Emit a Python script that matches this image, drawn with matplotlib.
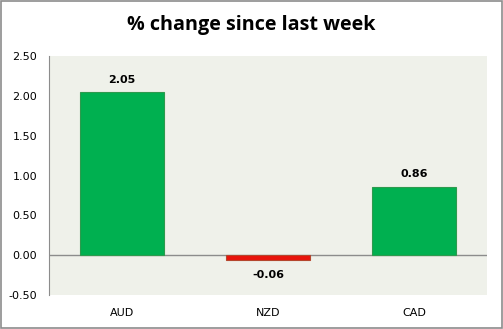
import matplotlib
matplotlib.use("Agg")
from matplotlib import pyplot as plt
from matplotlib.patches import Rectangle
import numpy as np

currencies = ["AUD", "NZD", "CAD"]
weekly_change = [2.05, -0.06, 0.86]
bar_colors = ["#00B050", "#E8140C", "#00B050"]
edge_colors = ["#2E9A4E", "#B5462E", "#2E9A4E"]
yticks = [-0.50, 0.00, 0.50, 1.00, 1.50, 2.00, 2.50]

fig = plt.figure(figsize=(5.03, 3.29), dpi=100)
fig.patch.set_facecolor("white")
ax = fig.add_axes([49 / 503, 1 - 295 / 329, (487 - 49) / 503, (295 - 56) / 329])
ax.set_facecolor("#EFF1EA")

xpos = np.arange(len(currencies))
ax.bar(xpos, weekly_change, width=0.57, color=bar_colors,
       edgecolor=edge_colors, linewidth=0.8, zorder=3)

for x, v in zip(xpos, weekly_change):
    if v >= 0:
        ax.text(x, v + 0.09, f"{v:.2f}", ha="center", va="bottom",
                fontsize=8, fontweight="bold", family="DejaVu Sans")
    else:
        ax.text(x, v - 0.12, f"{v:.2f}", ha="center", va="top",
                fontsize=8, fontweight="bold", family="DejaVu Sans")

ax.set_xlim(-0.5, 2.5)
ax.set_ylim(-0.5, 2.5)
ax.set_yticks(yticks)
ax.set_yticklabels([f"{t:.2f}" for t in yticks], fontsize=8)
ax.set_xticks(xpos)
ax.set_xticklabels(currencies, fontsize=8)
ax.tick_params(axis="both", length=0, colors="black")
ax.tick_params(axis="y", pad=8.5)
ax.tick_params(axis="x", pad=9.5)

for side in ["top", "right", "bottom"]:
    ax.spines[side].set_visible(False)
ax.spines["left"].set_color("#8C8C8C")
ax.axhline(0, color="#8C8C8C", linewidth=1.0, zorder=2)

fig.text(0.5, 1 - 25 / 329, "% change since last week", ha="center",
         va="center", fontsize=14.2, fontweight="bold", family="Open Sans")

fig.patches.append(Rectangle((0.001, 0.002), 0.997, 0.995, transform=fig.transFigure,
                             fill=False, edgecolor="#8C8C8C", linewidth=1.2))

fig.savefig("out.png", dpi=100)
